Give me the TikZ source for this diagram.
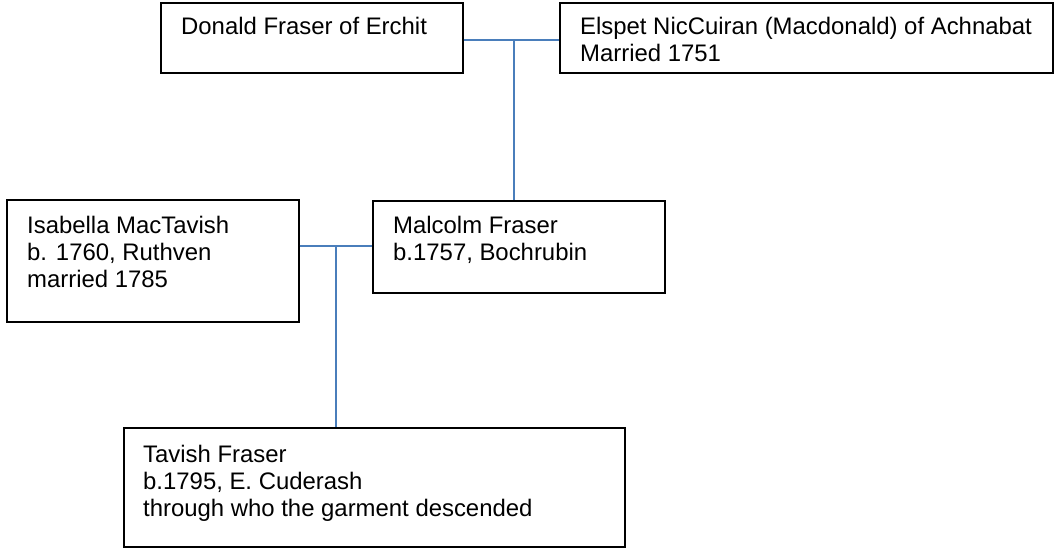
\documentclass[tikz,border=0pt]{standalone}
\usepackage{fontspec}
\setmainfont{Liberation Sans}
\begin{document}
\begin{tikzpicture}[x=1pt,y=-1pt,
  box/.style={draw=black,line width=1.6pt,anchor=north west,inner sep=0pt},
  txt/.style={anchor=base west,inner sep=0pt,align=left,
    font=\fontsize{23.9}{27}\selectfont},
  link/.style={draw={rgb,255:red,74;green,126;blue,187},line width=1.6pt}]
  \useasboundingbox (0,0) rectangle (1054,548);
  % person boxes
  \node[box,minimum width=302pt,minimum height=70pt] (donald) at (160,2) {};
  \node[box,minimum width=493pt,minimum height=70pt] (elspet) at (559,2) {};
  \node[box,minimum width=292pt,minimum height=122pt] (isabella) at (6,199) {};
  \node[box,minimum width=292pt,minimum height=92pt] (malcolm) at (372,200) {};
  \node[box,minimum width=501pt,minimum height=119pt] (tavish) at (123,427) {};
  % names and dates (anchored on the baseline of the last line)
  \node[txt] (donald-t) at ([xshift=21pt,yshift=-33pt]donald.north west) {Donald Fraser of Erchit};
  \node[txt] (elspet-t) at ([xshift=21pt,yshift=-60pt]elspet.north west) {Elspet NicCuiran (Macdonald) of Achnabat\\Married 1751};
  \node[txt] (isabella-t) at ([xshift=21pt,yshift=-88pt]isabella.north west) {Isabella MacTavish\\b. 1760, Ruthven\\married 1785};
  \node[txt] (malcolm-t) at ([xshift=21pt,yshift=-60pt]malcolm.north west) {Malcolm Fraser\\b.1757, Bochrubin};
  \node[txt] (tavish-t) at ([xshift=20pt,yshift=-89pt]tavish.north west) {Tavish Fraser\\b.1795, E. Cuderash\\through who the garment descended};
  % marriage and descent lines
  \coordinate (m1) at (514,40);
  \coordinate (m2) at (336,246);
  \draw[link] (m1 -| donald.east) -- (m1 -| elspet.west);
  \draw[link] (m1) -- (m1 |- malcolm.north);
  \draw[link] (m2 -| isabella.east) -- (m2 -| malcolm.west);
  \draw[link] (m2) -- (m2 |- tavish.north);
\end{tikzpicture}
\end{document}
